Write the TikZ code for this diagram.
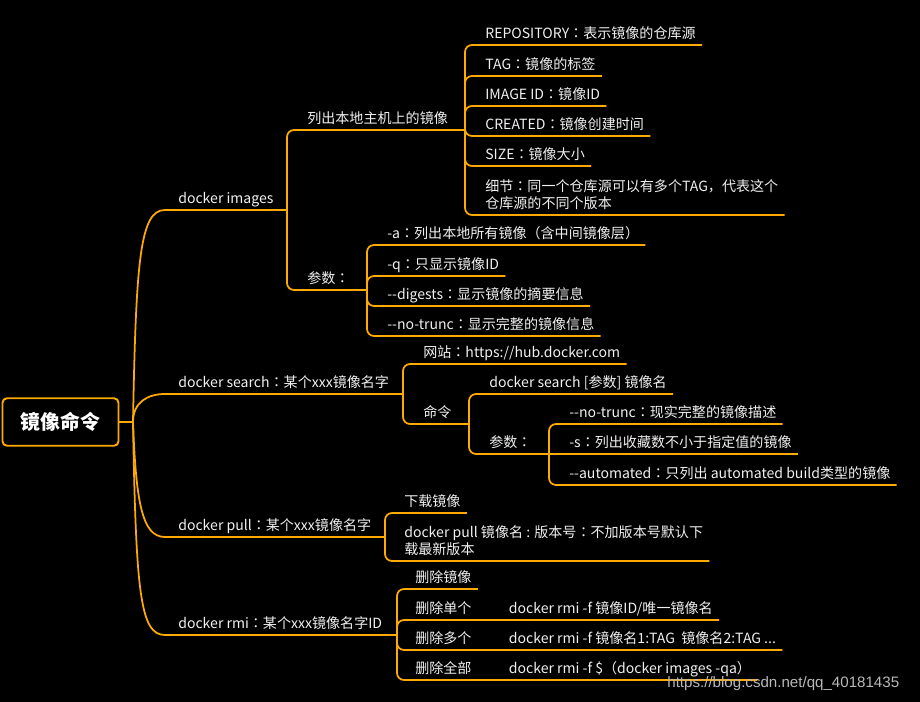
\documentclass[tikz,border=0pt]{standalone}
\usepackage{fontspec}
\usepackage{xcolor}
\usepackage{tikz}
\newfontfamily\mapfont{Noto Sans CJK SC}
\newfontfamily\colfont{Noto Sans CJK TC}
\newfontfamily\wmfont{Liberation Sans}
\newcommand\cn{{\colfont ：}}
\definecolor{branch}{HTML}{FFAA00}
\definecolor{ink}{HTML}{F0F0F0}
\tikzset{
  conn/.style={draw=branch, line width=1pt, rounded corners=4pt},
  topic/.style={anchor=south west, inner xsep=3.4pt, inner ysep=0pt, text depth=3.4pt, align=left, text=ink, font=\mapfont\fontsize{8pt}{9.6pt}\selectfont},
  rootbox/.style={draw=branch, line width=1.1pt, rounded corners=2.5pt, minimum width=66pt, minimum height=27pt, text=white, font=\mapfont\bfseries\fontsize{11.3pt}{13pt}\selectfont},
  wmark/.style={anchor=base west, inner sep=0pt, text=white!72!black, font=\wmfont\fontsize{8.6pt}{10pt}\selectfont}
}

\begin{document}
\begin{tikzpicture}[x=0.02cm, y=-0.02cm]
\fill[black] (0,0) rectangle (920,702);
\useasboundingbox (0,0) rectangle (920,702);
% root and first level
\node[rootbox] (root) at (60.5,422) {镜像命令};
\coordinate (rj) at (133,422);
\node[topic] (imgs) at (172,210) {docker images};
\node[topic] (search) at (172,394) {docker search\cn 某个xxx镜像名字};
\node[topic] (pull) at (172,537) {docker pull\cn 某个xxx镜像名字};
\node[topic] (rmi) at (172,635) {docker rmi\cn 某个xxx镜像名字ID};
\coordinate (bImgs) at (287,210);
\coordinate (bSearch) at (403,394);
\coordinate (bPull) at (385,537);
\coordinate (bRmi) at (397,635);
\draw[conn] (root.east) -- (rj);
\draw[conn] (rj) .. controls +(3,-162) and +(-32,0) .. (imgs.south west) -- (bImgs);
\draw[conn] (rj) .. controls +(0,-20) and +(-24,0) .. (search.south west) -- (bSearch);
\draw[conn] (rj) .. controls +(3,80) and +(-30,0) .. (pull.south west) -- (bPull);
\draw[conn] (rj) .. controls +(3,170) and +(-32,0) .. (rmi.south west) -- (bRmi);

% docker images
\node[topic] (list) at (301,130) {列出本地主机上的镜像};
\node[topic] (param) at (301,290) {参数\cn};
\coordinate (bList) at (465,130);
\coordinate (bParam) at (367,290);
\draw[conn] (bImgs) |- (bList);
\draw[conn] (bImgs) |- (bParam);
\node[topic] (repo) at (479,45) {REPOSITORY\cn 表示镜像的仓库源};
\node[topic] (tag) at (479,76) {TAG\cn 镜像的标签};
\node[topic] (imgid) at (479,106) {IMAGE ID\cn 镜像ID};
\node[topic] (created) at (479,136) {CREATED\cn 镜像创建时间};
\node[topic] (size) at (479,166) {SIZE\cn 镜像大小};
\node[topic] (detail) at (479,215) {细节\cn 同一个仓库源可以有多个TAG，代表这个\\仓库源的不同个版本};
\foreach \c in {repo,tag,imgid,created,size,detail} \draw[conn] (bList) |- (\c.south east);
\node[topic] (optA) at (381,245) {-a\cn 列出本地所有镜像（含中间镜像层）};
\node[topic] (optQ) at (381,276) {-q\cn 只显示镜像ID};
\node[topic] (optDig) at (381,306) {-{}-digests\cn 显示镜像的摘要信息};
\node[topic] (optNoTr) at (381,336) {-{}-no-trunc\cn 显示完整的镜像信息};
\foreach \c in {optA,optQ,optDig,optNoTr} \draw[conn] (bParam) |- (\c.south east);

% docker search
\node[topic] (web) at (417,364) {网站\cn https://hub.docker.com};
\node[topic] (cmd) at (417,424) {命令};
\coordinate (bCmd) at (469,424);
\draw[conn] (bSearch) |- (web.south east);
\draw[conn] (bSearch) |- (bCmd);
\node[topic] (cmdUse) at (483,394) {docker search [参数] 镜像名};
\node[topic] (cmdOpt) at (483,454) {参数\cn};
\coordinate (bCmdOpt) at (549,454);
\draw[conn] (bCmd) |- (cmdUse.south east);
\draw[conn] (bCmd) |- (bCmdOpt);
\node[topic] (sNoTr) at (563,424) {-{}-no-trunc\cn 现实完整的镜像描述};
\node[topic] (sStars) at (563,454) {-s\cn 列出收藏数不小于指定值的镜像};
\node[topic] (sAuto) at (563,485) {-{}-automated\cn 只列出 automated build类型的镜像};
\draw[conn] (bCmdOpt) |- (sNoTr.south east);
\draw[conn] (bCmdOpt) -- (sStars.south east);
\draw[conn] (bCmdOpt) |- (sAuto.south east);

% docker pull
\node[topic] (pullDesc) at (398,513) {下载镜像};
\node[topic] (pullCmd) at (398,561) {docker pull 镜像名 : 版本号\cn 不加版本号默认下\\载最新版本};
\foreach \c in {pullDesc,pullCmd} \draw[conn] (bPull) |- (\c.south east);

% docker rmi
\node[topic] (rmiDesc) at (409,589) {删除镜像};
\node[topic] (rmiOne) at (409,620) {\makebox[53.3pt][l]{删除单个}docker rmi -f 镜像ID/唯一镜像名};
\node[topic] (rmiMany) at (409,650) {\makebox[53.3pt][l]{删除多个}docker rmi -f 镜像名1:TAG\ \ 镜像名2:TAG ...};
\node[topic] (rmiAll) at (409,680) {\makebox[53.3pt][l]{删除全部}docker rmi -f \$（docker images -qa）};
\foreach \c in {rmiDesc,rmiOne,rmiMany,rmiAll} \draw[conn] (bRmi) |- (\c.south east);

\node[wmark] (wm) at (667,687) {https://blog.csdn.net/qq\_40181435};
\end{tikzpicture}
\end{document}
